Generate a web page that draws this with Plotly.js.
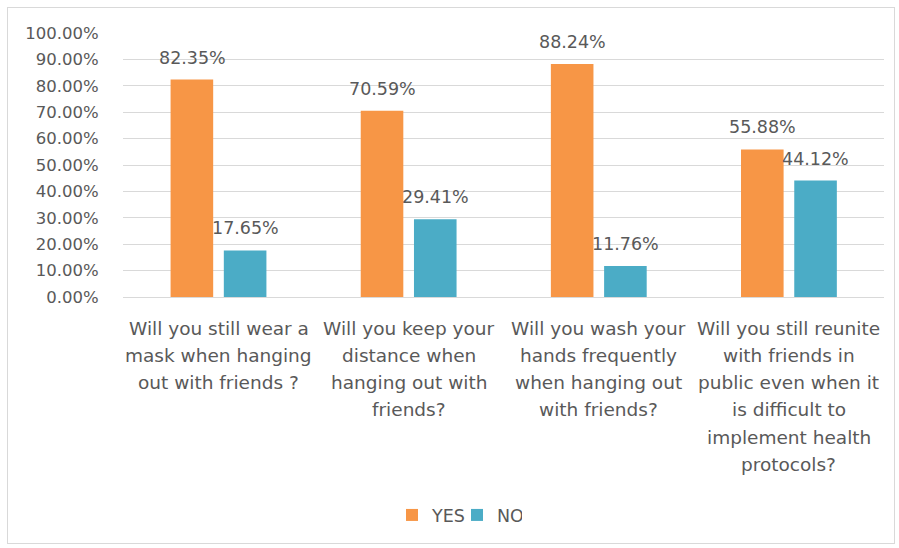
<!DOCTYPE html>
<html>
<head>
<meta charset="utf-8">
<script src="https://cdn.plot.ly/plotly-3.0.1.min.js"></script>
<style>
  html, body { margin: 0; padding: 0; background: #ffffff; }
  #frame { position: absolute; left: 7px; top: 7px; width: 888px; height: 537px; border: 1px solid #d9d9d9; box-sizing: border-box; }
  #chart { position: absolute; left: 0; top: 0; width: 899px; height: 548px; }
</style>
</head>
<body>
<div id="frame"></div>
<div id="chart"></div>
<script>
// ---- data ----
const categories = [
  "Will you still wear a<br>mask when hanging<br>out with friends ?",
  "Will you keep your<br>distance when<br>hanging out with<br>friends?",
  "Will you wash your<br>hands frequently<br>when hanging out<br>with friends?",
  "Will you still reunite<br>with friends in<br>public even when it<br>is difficult to<br>implement health<br>protocols?"
];
const yesValues = [0.8235, 0.7059, 0.8824, 0.5588];
const noValues = [0.1765, 0.2941, 0.1176, 0.4412];
const seriesNames = ["YES", "NO"];
const yTickValues = [0, 0.1, 0.2, 0.3, 0.4, 0.5, 0.6, 0.7, 0.8, 0.9, 1.0];

// ---- styling ----
const textColor = "#595959";
const fontFamily = "DejaVu Sans, sans-serif";
const yesColor = "#F79646";
const noColor = "#4BACC6";

const catKeys = categories.map((c, i) => "c" + i);

const traces = [
  { type: "bar", name: seriesNames[0], x: catKeys, y: yesValues, marker: { color: yesColor }, hoverinfo: "none" },
  { type: "bar", name: seriesNames[1], x: catKeys, y: noValues, marker: { color: noColor }, hoverinfo: "none" }
];

const annotations = [];
const fmt = v => (v * 100).toFixed(2) + "%";
catKeys.forEach((k, i) => {
  annotations.push({ x: k, y: yesValues[i], xref: "x", yref: "y", text: fmt(yesValues[i]), showarrow: false,
    xshift: -26.5, yshift: 22, font: { family: fontFamily, size: 17.5, color: textColor } });
  annotations.push({ x: k, y: noValues[i], xref: "x", yref: "y", text: fmt(noValues[i]), showarrow: false,
    xshift: 26.5, yshift: 22, font: { family: fontFamily, size: 17.5, color: textColor } });
  const lines = categories[i].split("<br>");
  lines.forEach((ln, j) => {
    annotations.push({ x: k, y: 0, xref: "x", yref: "paper", text: ln, showarrow: false,
      yanchor: "middle", yshift: -31 - 27.3 * j,
      font: { family: fontFamily, size: 18.5, color: textColor } });
  });
});

const layout = {
  width: 899, height: 548,
  margin: { l: 123, r: 15, t: 33, b: 251 },
  paper_bgcolor: "rgba(0,0,0,0)",
  plot_bgcolor: "rgba(0,0,0,0)",
  font: { family: fontFamily, color: textColor, size: 16 },
  barmode: "group",
  bargap: 0.44,
  bargroupgap: 0.2,
  showlegend: true,
  legend: { orientation: "h", x: 0.3535, xanchor: "left", y: -0.826, yanchor: "middle",
    font: { family: fontFamily, size: 17.5, color: textColor }, itemwidth: 30, entrywidth: 20, traceorder: "normal" },
  xaxis: { showticklabels: false, ticks: "", showgrid: false, zeroline: false, showline: false, fixedrange: true },
  yaxis: {
    range: [0, 1], tickvals: yTickValues, tickformat: ".2%",
    showgrid: true, gridcolor: "#d9d9d9", gridwidth: 1,
    zeroline: true, zerolinecolor: "#d9d9d9", zerolinewidth: 1,
    showline: false, ticks: "outside", ticklen: 20, tickcolor: "rgba(0,0,0,0)",
    tickfont: { family: fontFamily, size: 16.5, color: textColor }, fixedrange: true
  },
  annotations: annotations
};

Plotly.newPlot("chart", traces, layout, { displayModeBar: false, staticPlot: true });
</script>
</body>
</html>
